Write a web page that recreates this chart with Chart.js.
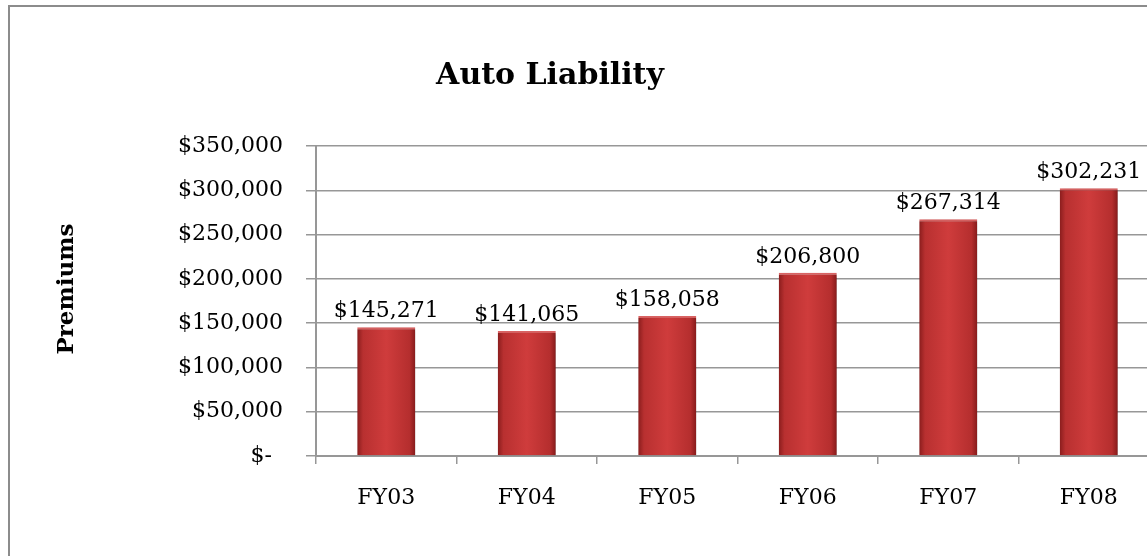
<!DOCTYPE html>
<html>
<head>
<meta charset="utf-8">
<script src="https://cdn.jsdelivr.net/npm/chart.js@4.4.1/dist/chart.umd.min.js"></script>
<style>
  html, body { margin: 0; padding: 0; background: #fff; overflow: hidden; }
  canvas { display: block; }
</style>
</head>
<body>
<canvas id="chart" width="1170" height="556"></canvas>
<script>
const years = ["FY03", "FY04", "FY05", "FY06", "FY07", "FY08"];
const premiums = [145271, 141065, 158058, 206800, 267314, 302231];
const yTicks = [0, 50000, 100000, 150000, 200000, 250000, 300000, 350000];
const chartTitle = "Auto Liability";
const axisTitle = "Premiums";

const serif = "'DejaVu Serif', 'Liberation Serif', serif";
const barPct = 0.413;

// accounting style: zero shows as "$-"
function money(v) {
  if (v === 0) return "$-\u2002";
  return "$" + v.toLocaleString("en-US");
}

// red bar with darker sides
function barFill(ctx) {
  const chart = ctx.chart;
  const x = chart.scales.x;
  if (!x || !chart.chartArea) return "#c63434";
  const cx = x.getPixelForValue(ctx.dataIndex);
  const half = (x.width / years.length) * barPct / 2;
  const g = chart.ctx.createLinearGradient(cx - half, 0, cx + half, 0);
  g.addColorStop(0, "#8a1d1d");
  g.addColorStop(0.1, "#b83030");
  g.addColorStop(0.5, "#cf3c3c");
  g.addColorStop(0.9, "#b52e2e");
  g.addColorStop(1, "#861b1b");
  return g;
}

const frame = {
  id: "frame",
  beforeDraw(chart) {
    const c = chart.ctx;
    c.save();
    c.fillStyle = "#fff";
    c.fillRect(0, 0, chart.width, chart.height);
    c.strokeStyle = "#8c8c8c";
    c.lineWidth = 2;
    c.strokeRect(9, 6, chart.width + 40, chart.height + 40);
    c.restore();
  }
};

const barShadow = {
  id: "barShadow",
  beforeDatasetsDraw(chart) {
    const c = chart.ctx;
    c.save();
    c.shadowColor = "rgba(0,0,0,0.35)";
    c.shadowBlur = 4;
    c.shadowOffsetX = 2;
    c.shadowOffsetY = 2;
  },
  afterDatasetsDraw(chart) {
    chart.ctx.restore();
  }
};

const labelsAndTitles = {
  id: "labelsAndTitles",
  afterDraw(chart) {
    const c = chart.ctx;
    const area = chart.chartArea;
    const meta = chart.getDatasetMeta(0);
    c.save();
    c.fillStyle = "#000";
    c.textAlign = "center";
    c.textBaseline = "alphabetic";
    c.font = "22px " + serif;
    meta.data.forEach((bar, i) => {
      c.fillText(money(premiums[i]), bar.x, bar.y - 10);
    });
    c.textBaseline = "middle";
    c.font = "bold 30px " + serif;
    c.fillText(chartTitle, area.left + 234, 76);
    // axis title, a bit above the plot's middle as in the original
    c.font = "bold 23px " + serif;
    c.translate(67, (area.top + area.bottom) / 2 - 12);
    c.rotate(-Math.PI / 2);
    c.fillText(axisTitle, 0, 0);
    c.restore();
  }
};

const gridGray = "#979797";

new Chart(document.getElementById("chart").getContext("2d"), {
  type: "bar",
  data: {
    labels: years,
    datasets: [{
      label: axisTitle,
      data: premiums,
      backgroundColor: barFill,
      borderColor: "#dc6464",
      borderWidth: { top: 2, left: 0, right: 0, bottom: 0 },
      borderSkipped: false,
      categoryPercentage: 1,
      barPercentage: barPct,
      clip: false
    }]
  },
  options: {
    responsive: false,
    animation: false,
    layout: { padding: { top: 146, left: 0, right: 11, bottom: 0 } },
    plugins: {
      legend: { display: false },
      tooltip: { enabled: false },
      title: { display: false }
    },
    scales: {
      x: {
        grid: {
          display: true,
          drawOnChartArea: false,
          drawTicks: true,
          tickLength: 8,
          color: gridGray,
          lineWidth: 1.5,
          offset: true
        },
        border: { display: true, color: gridGray, width: 2 },
        ticks: {
          color: "#000",
          padding: 21,
          font: { family: serif, size: 22 }
        },
        afterFit(scale) { scale.height = 100; }
      },
      y: {
        min: 0,
        max: 350000,
        afterBuildTicks(scale) {
          scale.ticks = yTicks.map(v => ({ value: v }));
        },
        grid: {
          color: gridGray,
          lineWidth: 1.5,
          drawTicks: true,
          tickLength: 10
        },
        border: { display: true, color: gridGray, width: 2 },
        ticks: {
          color: "#000",
          padding: 23,
          font: { family: serif, size: 22 },
          callback: v => money(v)
        },
        title: { display: false },
        afterFit(scale) { scale.width = 316; }
      }
    }
  },
  plugins: [frame, barShadow, labelsAndTitles]
});
</script>
</body>
</html>
